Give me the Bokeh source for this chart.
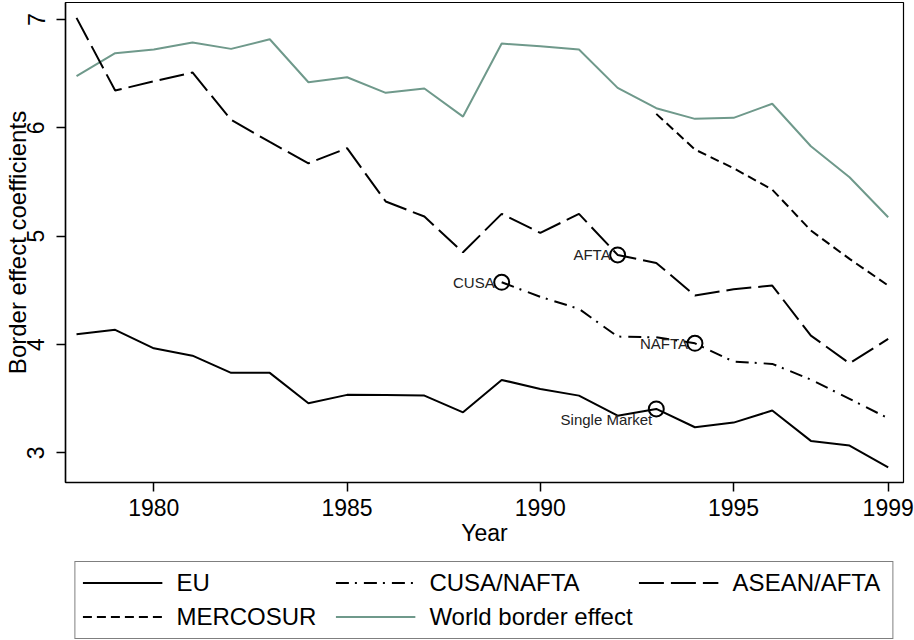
from bokeh.plotting import figure
from bokeh.layouts import column
from bokeh.models import Range1d, FixedTicker, Legend, LegendItem
from bokeh.core.properties import value
from bokeh.embed import file_html
from bokeh.resources import INLINE

# ---------------- data ----------------
years = list(range(1978, 2000))
eu = [4.094, 4.135, 3.965, 3.897, 3.738, 3.738, 3.457, 3.535, 3.533, 3.528, 3.374,
      3.673, 3.590, 3.528, 3.343, 3.405, 3.236, 3.279, 3.390, 3.110, 3.067, 2.866]
world = [6.477, 6.689, 6.723, 6.788, 6.729, 6.818, 6.421, 6.467, 6.323, 6.363, 6.104,
         6.778, 6.753, 6.723, 6.369, 6.181, 6.083, 6.092, 6.222, 5.830, 5.544, 5.175]
asean = [7.015, 6.344, 6.430, 6.511, 6.074, 5.870, 5.673, 5.812, 5.320, 5.181, 4.851,
         5.206, 5.030, 5.206, 4.827, 4.753, 4.452, 4.510, 4.544, 4.082, 3.826, 4.052]
cusa_years = list(range(1989, 2000))
cusa = [4.574, 4.440, 4.329, 4.073, 4.066, 4.011, 3.842, 3.821, 3.676, 3.498, 3.319]
merc_years = list(range(1993, 2000))
mercosur = [6.129, 5.800, 5.627, 5.430, 5.052, 4.790, 4.544]

x_ticks = [1980, 1985, 1990, 1995, 1999]
y_ticks = [3, 4, 5, 6, 7]

event_series = ["EU", "CUSA/NAFTA", "ASEAN/AFTA", "CUSA/NAFTA"]
event_years = [1993, 1989, 1992, 1994]
event_labels = ["Single Market", "CUSA", "AFTA", "NAFTA"]

legend_order = ["EU", "CUSA/NAFTA", "ASEAN/AFTA", "MERCOSUR", "World border effect"]

series = {
    "EU": (years, eu),
    "CUSA/NAFTA": (cusa_years, cusa),
    "ASEAN/AFTA": (years, asean),
    "MERCOSUR": (merc_years, mercosur),
    "World border effect": (years, world),
}
event_values = [series[s][1][series[s][0].index(yr)] for s, yr in zip(event_series, event_years)]

# ---------------- styles ----------------
FONT = "Liberation Sans"
GREEN = "#6f998b"
styles = {
    "EU": dict(line_color="black", line_width=2),
    "CUSA/NAFTA": dict(line_color="black", line_width=2, line_dash="13 6 2 7"),
    "ASEAN/AFTA": dict(line_color="black", line_width=2, line_dash="25 7"),
    "MERCOSUR": dict(line_color="black", line_width=2, line_dash="9 5"),
    "World border effect": dict(line_color=GREEN, line_width=2),
}
draw_order = ["World border effect", "ASEAN/AFTA", "MERCOSUR", "CUSA/NAFTA", "EU"]

# ---------------- main figure ----------------
p = figure(width=914, height=548, output_backend="svg", toolbar_location=None,
           x_range=Range1d(1977.715, 1999.396), y_range=Range1d(2.726, 7.157),
           min_border_top=2, min_border_right=11, min_border_left=65, min_border_bottom=0)
p.background_fill_color = "white"
p.border_fill_color = "white"
p.grid.visible = False
p.outline_line_color = "black"
p.outline_line_width = 1.2

for name in draw_order:
    xs, ys = series[name]
    p.line(xs, ys, **styles[name])

p.scatter(event_years, event_values, marker="circle", size=15, fill_color=None,
          line_color="black", line_width=2)

p.text(event_years[1:], event_values[1:], text=event_labels[1:], text_align="right",
       text_baseline="middle", x_offset=-7, text_font=value(FONT),
       text_font_size="15px", text_color="#222222")
p.text(event_years[:1], event_values[:1], text=event_labels[:1], text_align="right",
       text_baseline="middle", x_offset=-4, y_offset=11, text_font=value(FONT),
       text_font_size="15px", text_color="#222222")

for ax in (p.xaxis[0], p.yaxis[0]):
    ax.axis_line_color = "black"
    ax.axis_line_width = 1.5
    ax.major_tick_line_color = "black"
    ax.major_tick_line_width = 1.5
    ax.major_tick_out = 9
    ax.major_tick_in = 0
    ax.minor_tick_line_color = None
    ax.major_label_text_font = FONT
    ax.major_label_text_font_size = "23px"
    ax.major_label_text_color = "black"
    ax.axis_label_text_font = FONT
    ax.axis_label_text_font_style = "normal"
    ax.axis_label_text_color = "black"

p.xaxis.ticker = FixedTicker(ticks=x_ticks)
p.yaxis.ticker = FixedTicker(ticks=y_ticks)
p.xaxis.axis_label = "Year"
p.xaxis.axis_label_text_font_size = "23px"
p.xaxis.major_label_standoff = 7
p.xaxis.axis_label_standoff = 1
p.yaxis.axis_label = "Border effect coefficients"
p.yaxis.axis_label_text_font_size = "24px"
p.yaxis.major_label_orientation = "vertical"
p.yaxis.major_label_standoff = 12
p.yaxis.axis_label_standoff = -6

# ---------------- legend panel ----------------
lg = figure(width=914, height=92, output_backend="svg", toolbar_location=None,
            x_range=Range1d(0, 1), y_range=Range1d(0, 1),
            x_axis_type=None, y_axis_type=None,
            min_border_top=11, min_border_bottom=0, min_border_left=50, min_border_right=0)
lg.grid.visible = False
lg.outline_line_color = None
lg.background_fill_color = "white"
lg.border_fill_color = "white"

# swatch renderers carry the real series (they fall outside this panel's range)
swatches = {name: lg.line(series[name][0], series[name][1], **styles[name]) for name in legend_order}
legend = Legend(items=[LegendItem(label=name, renderers=[swatches[name]]) for name in legend_order],
                orientation="horizontal", ncols=3, location="center")
legend.label_text_font = FONT
legend.label_text_font_size = "24px"
legend.label_text_color = "black"
legend.glyph_width = 80
legend.glyph_height = 27
legend.label_height = 27
legend.label_width = 153
legend.label_standoff = 14
legend.spacing = 6
legend.padding = 7
legend.margin = 0
legend.border_line_color = "black"
legend.border_line_width = 1
legend.background_fill_color = "white"
legend.background_fill_alpha = 1
lg.add_layout(legend)

layout = column(p, lg, spacing=0)
open("out.html", "w").write(file_html(layout, INLINE))
